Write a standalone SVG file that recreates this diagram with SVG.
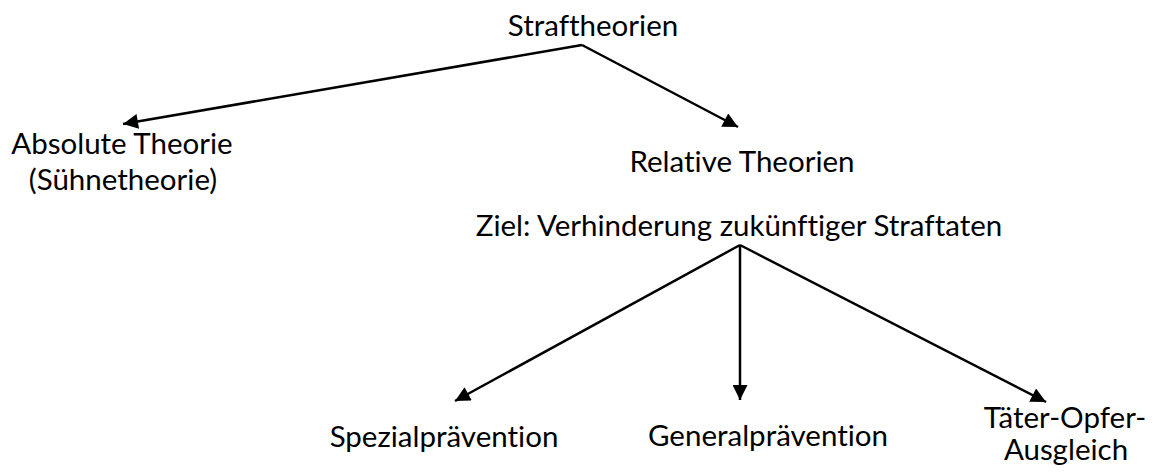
<svg xmlns="http://www.w3.org/2000/svg" width="1153" height="472" viewBox="0 0 1153 472">
<defs>
<style>
text{font-family:Lato,"Liberation Sans",sans-serif;font-size:29.5px;fill:#000;text-anchor:middle;font-variant-ligatures:none;font-feature-settings:"liga" 0,"dlig" 0}
.c line{stroke:#000;stroke-width:2.5;fill:none}
</style>
<marker id="ah" viewBox="0 0 10 10" refX="10" refY="5" markerWidth="6.5" markerHeight="6" markerUnits="strokeWidth" orient="auto">
<path d="M0,0 L10,5 L0,10 Z" fill="#000"/>
</marker>
</defs>
<rect width="1153" height="472" fill="#fff"/>
<g class="c" id="connectors">
<line x1="582" y1="45" x2="123" y2="124" marker-end="url(#ah)"/>
<line x1="582" y1="45" x2="738" y2="127" marker-end="url(#ah)"/>
<line x1="740" y1="245" x2="455" y2="401" marker-end="url(#ah)"/>
<line x1="740" y1="245" x2="740" y2="400" marker-end="url(#ah)"/>
<line x1="740" y1="245" x2="1046" y2="402" marker-end="url(#ah)"/>
</g>
<g id="root"><text x="593" y="36">Straftheorien</text></g>
<g id="absolute"><text x="122" y="154">Absolute Theorie</text><text x="123" y="190">(Sühnetheorie)</text></g>
<g id="relative"><text x="742" y="172">Relative Theorien</text><text x="739" y="236">Ziel: Verhinderung zukünftiger Straftaten</text></g>
<g id="spezial"><text x="444" y="447">Spezialprävention</text></g>
<g id="general"><text x="768" y="446">Generalprävention</text></g>
<g id="toa"><text x="1065" y="428">Täter-Opfer-</text><text x="1066" y="460">Ausgleich</text></g>
</svg>
